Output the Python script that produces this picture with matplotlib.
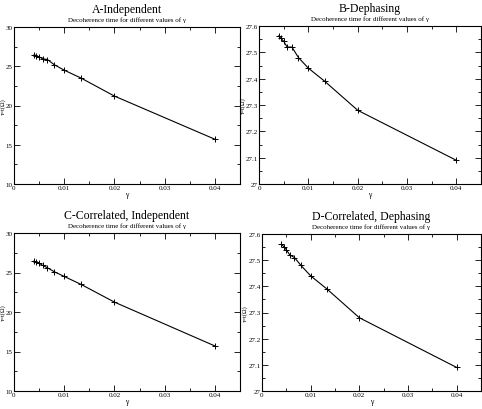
import matplotlib
matplotlib.use('Agg')
import matplotlib.pyplot as plt
from matplotlib.ticker import MultipleLocator

plt.rcParams['font.family'] = ['Liberation Serif', 'DejaVu Serif']

gamma = [0.004, 0.00444, 0.005, 0.00571, 0.00667, 0.008, 0.01, 0.01333, 0.02, 0.04]

tau_a = [26.45, 26.35, 26.2, 25.95, 25.85, 25.2, 24.5, 23.5, 21.2, 15.7]
tau_b = [27.562, 27.553, 27.542, 27.52, 27.52, 27.48, 27.44, 27.39, 27.28, 27.09]
tau_c = [26.45, 26.33, 26.17, 25.9, 25.6, 25.1, 24.5, 23.5, 21.25, 15.7]
tau_d = [27.561, 27.552, 27.54, 27.52, 27.51, 27.48, 27.44, 27.39, 27.28, 27.09]

titles = ['A-Independent', 'B-Dephasing', 'C-Correlated, Independent', 'D-Correlated, Dephasing']
subtitle = 'Decoherence time for different values of \u03b3'
xticks = [0, 0.01, 0.02, 0.03, 0.04]
xticklabels = ['0', '0.01', '0.02', '0.03', '0.04']
yticks_small = [27, 27.1, 27.2, 27.3, 27.4, 27.5, 27.6]
yticklabels_small = ['27', '27.1', '27.2', '27.3', '27.4', '27.5', '27.6']

W, H = 482, 410
fig = plt.figure(figsize=(W / 100, H / 100), dpi=100)

# (left, top, right, bottom, ylabel x) in pixels
boxes = [(14, 28, 240, 185, 3), (259, 27, 481, 185, 243),
         (14, 234, 240, 392, 3), (262, 235, 481, 392, 245)]
series = [tau_a, tau_b, tau_c, tau_d]

for box, tau, title in zip(boxes, series, titles):
    l, t, r, b, lx = box
    ax = fig.add_axes([l / W, 1 - b / H, (r - l) / W, (b - t) / H])
    ax.plot(gamma, tau, color='black', lw=0.8, marker='+', ms=5, mew=0.7)
    ax.set_xlim(0, 0.045)
    ax.set_xticks(xticks)
    ax.set_xticklabels(xticklabels)
    ax.xaxis.set_minor_locator(MultipleLocator(0.005))
    if min(tau) > 27.0:
        ax.set_ylim(27, 27.6)
        ax.set_yticks(yticks_small)
        ax.set_yticklabels(yticklabels_small)
        ax.yaxis.set_minor_locator(MultipleLocator(0.05))
    else:
        ax.set_ylim(10, 30)
        ax.yaxis.set_major_locator(MultipleLocator(5))
        ax.yaxis.set_minor_locator(MultipleLocator(2.5))
    ax.tick_params(which='both', direction='in', top=True, right=True, labelsize=5, pad=1, width=0.6)
    ax.tick_params(which='major', length=4)
    ax.tick_params(which='minor', length=2)
    for s in ax.spines.values():
        s.set_linewidth(0.8)
    ax.set_xlabel('\u03b3', fontsize=5.5, labelpad=0)
    ax.set_ylabel('\u03c4=t(\u03a9)', fontsize=4.5, va='center')
    ax.yaxis.set_label_coords((lx - l) / (r - l), 0.5)
    cx = (l + r) / 2 / W
    fig.text(cx, 1 - (t - 18) / H, title, ha='center', va='center', fontsize=8.5)
    fig.text(cx, 1 - (t - 8) / H, subtitle, ha='center', va='center', fontsize=5)

fig.savefig('out.png', dpi=100)
